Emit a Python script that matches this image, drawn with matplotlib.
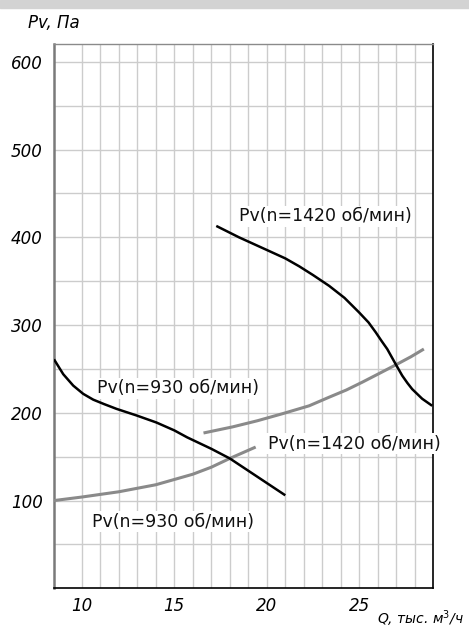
import matplotlib
matplotlib.use("Agg")
import matplotlib.pyplot as plt
from matplotlib.patches import Rectangle

# ---------------------------------------------------------------------------
# Data
# ---------------------------------------------------------------------------

q_black_930 = [8.5, 9.0, 9.54, 10.08, 10.62, 11.2, 11.88, 12.96, 14.03, 15.0, 15.7,
               17.0, 18.0, 19.0, 20.0, 21.0]
pv_black_930 = [261, 244, 231, 221.6, 215, 210, 204.5, 197, 189, 180, 172,
                159, 148, 134, 120, 106]

q_gray_930 = [8.5, 10, 11, 12, 13, 14, 15, 16, 17, 18, 19.4]
pv_gray_930 = [100, 104, 107, 110, 114, 118, 124, 130, 138, 148, 161]

q_black_1420 = [17.27, 18.5, 19.96, 21.0, 21.75, 22.5, 23.37, 24.2, 24.99, 25.5,
                25.89, 26.2, 26.51, 26.96, 27.32, 27.6, 27.86, 28.4, 28.94]
pv_black_1420 = [413, 400, 386, 376, 367, 357, 344.7, 331, 314.4, 303,
                 291.7, 282, 272.7, 255.7, 242.4, 234, 227, 216, 208]

q_gray_1420 = [16.58, 18.16, 19.5, 20.85, 22.29, 23.37, 24.3, 25.17, 26.0, 26.96, 27.8, 28.49]
pv_gray_1420 = [177, 184, 191, 199, 208, 217.8, 226, 235, 244, 254.5, 264, 272.7]

labels = ["Pv(n=1420 об/мин)", "Pv(n=930 об/мин)",
          "Pv(n=1420 об/мин)", "Pv(n=930 об/мин)"]
label_pos = [(18.5, 424), (10.8, 228), (20.05, 165), (10.58, 76)]

x_ticks = [10, 15, 20, 25]
y_ticks = [100, 200, 300, 400, 500, 600]

FONT = ["DejaVu Sans"]
C_GRAY = "#8a8a8a"
C_GRID = "#cccccc"

# ---------------------------------------------------------------------------
# Figure
# ---------------------------------------------------------------------------

fig = plt.figure(figsize=(4.69, 6.36), dpi=100)
fig.patches.append(Rectangle((0, 1 - 8 / 636), 1, 8 / 636, transform=fig.transFigure,
                             color="#d3d3d3", zorder=0))

ax = fig.add_axes([54 / 469, 47.7 / 636, (433.3 - 54) / 469, (588.3 - 44.3) / 636])
ax.set_xlim(8.5, 29)
ax.set_ylim(0, 620)

for xv in range(10, 29):
    ax.axvline(xv, color=C_GRID, lw=1.0, zorder=1)
for yv in range(50, 601, 50):
    ax.axhline(yv, color=C_GRID, lw=1.0, zorder=1)

ax.plot(q_gray_930, pv_gray_930, color=C_GRAY, lw=2.2, zorder=3, solid_capstyle="butt")
ax.plot(q_gray_1420, pv_gray_1420, color=C_GRAY, lw=2.2, zorder=3, solid_capstyle="butt")
ax.plot(q_black_930, pv_black_930, color="black", lw=1.8, zorder=4, solid_capstyle="butt")
ax.plot(q_black_1420, pv_black_1420, color="black", lw=1.8, zorder=4, solid_capstyle="butt")

for text, (xv, yv) in zip(labels, label_pos):
    ax.text(xv, yv, text, family=FONT, fontsize=12.5, color="#111111",
            ha="left", va="center", zorder=5,
            bbox=dict(facecolor="white", edgecolor="none", pad=1.0))

ax.set_xticks(x_ticks)
ax.set_yticks(y_ticks)
ax.set_xticklabels([str(v) for v in x_ticks], family=FONT, style="italic", fontsize=12)
ax.set_yticklabels([str(v) for v in y_ticks], family=FONT, style="italic", fontsize=12)
ax.tick_params(axis="y", length=0, pad=8)
ax.tick_params(axis="x", length=0, pad=6)

ax.spines["left"].set_color("#7a7a7a")
ax.spines["left"].set_linewidth(1.8)
ax.spines["top"].set_color("#8a8a8a")
ax.spines["top"].set_linewidth(1.0)
ax.spines["bottom"].set_color("black")
ax.spines["bottom"].set_linewidth(1.2)
ax.spines["right"].set_color("black")
ax.spines["right"].set_linewidth(1.2)

fig.text(28 / 469, 1 - 23 / 636, "Pv, Па", family=FONT, style="italic", fontsize=12,
         ha="left", va="center")
fig.text(464 / 469, 1 - 619 / 636, "Q, тыс. м$^3$/ч", family=FONT, style="italic",
         fontsize=10, ha="right", va="center")

fig.savefig("out.png", dpi=100)
